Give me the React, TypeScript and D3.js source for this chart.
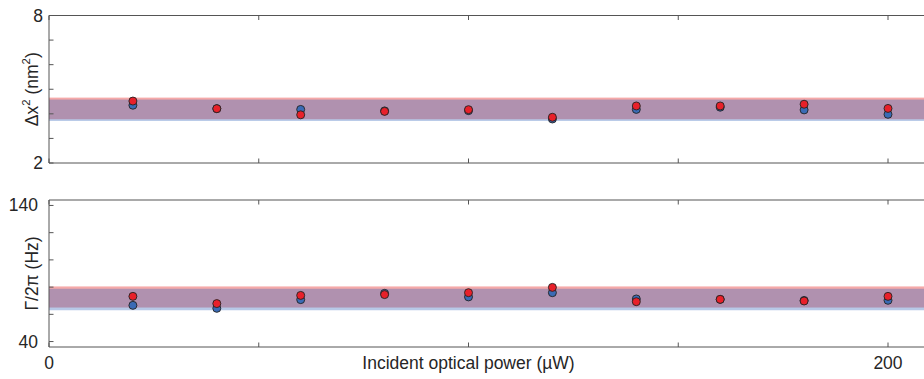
import React from "react";
import * as d3 from "d3";

// ---- data ----
const power = [20, 40, 60, 80, 100, 120, 140, 160, 180, 200];
const dx2Blue = [4.35, 4.21, 4.18, 4.12, 4.13, 3.79, 4.18, 4.27, 4.16, 3.98];
const dx2Red = [4.52, 4.21, 3.96, 4.1, 4.17, 3.86, 4.32, 4.32, 4.39, 4.22];
const gammaBlue = [66.6, 64.4, 70.8, 75.4, 72.8, 75.9, 71.3, 71.0, 70.2, 70.3];
const gammaRed = [73.2, 67.9, 73.9, 74.5, 75.9, 79.8, 69.3, 71.0, 69.8, 73.2];
const dx2RedBand = [3.78, 4.66];
const dx2BlueBand = [3.71, 4.58];
const gammaRedBand = [65, 80.5];
const gammaBlueBand = [63, 78.8];
const xTicks = [0, 50, 100, 150, 200];
const xTickLabels = ["0", "", "", "", "200"];
const dx2Ticks = [2, 3, 4, 5, 6, 7, 8];
const dx2TickLabels = ["2", "", "", "", "", "", "8"];
const gammaTicks = [40, 60, 80, 100, 120, 140];
const gammaTickLabels = ["40", "", "", "", "", "140"];

const W = 924;
const H = 379;
const axisColor = "#555";
const textColor = "#262626";
const font = "'Liberation Sans', Arial, sans-serif";
const fs = 17.5;

const x = d3.scaleLinear().domain([0, 200]).range([49, 888]);
const xRight = 924;

type PanelProps = {
  top: number;
  bottom: number;
  domain: [number, number];
  ticks: number[];
  tickLabels: string[];
  labelX: number;
  ylabel: React.ReactNode;
  blue: number[];
  red: number[];
  redBand: number[];
  blueBand: number[];
};

function Panel(p: PanelProps) {
  const y = d3.scaleLinear().domain(p.domain).range([p.bottom, p.top]);
  const x0 = x(0);
  const tl = 4.5;
  return (
    <g>
      <rect
        x={x0}
        y={y(p.redBand[1])}
        width={xRight - x0}
        height={y(p.redBand[0]) - y(p.redBand[1])}
        fill="rgb(230,40,40)"
        fillOpacity={0.4}
      />
      <rect
        x={x0}
        y={y(p.blueBand[1])}
        width={xRight - x0}
        height={y(p.blueBand[0]) - y(p.blueBand[1])}
        fill="rgb(50,100,185)"
        fillOpacity={0.35}
      />
      <line x1={x0} x2={xRight} y1={p.top} y2={p.top} stroke={axisColor} strokeWidth={1} />
      <line x1={x0} x2={xRight} y1={p.bottom} y2={p.bottom} stroke={axisColor} strokeWidth={1} />
      <line x1={x0} x2={x0} y1={p.top} y2={p.bottom} stroke={axisColor} strokeWidth={1} />
      {p.ticks.map((t, i) => (
        <g key={"yt" + i}>
          <line x1={x0} x2={x0 + tl} y1={y(t)} y2={y(t)} stroke={axisColor} strokeWidth={1} />
          {p.tickLabels[i] && (
            <text
              x={p.labelX}
              y={y(t)}
              textAnchor="end"
              dominantBaseline="central"
              fontSize={fs}
              fontFamily={font}
              fill={textColor}
            >
              {p.tickLabels[i]}
            </text>
          )}
        </g>
      ))}
      {xTicks.map((t, i) => (
        <g key={"xt" + i}>
          <line x1={x(t)} x2={x(t)} y1={p.top} y2={p.top + tl} stroke={axisColor} strokeWidth={1} />
          <line x1={x(t)} x2={x(t)} y1={p.bottom} y2={p.bottom - tl} stroke={axisColor} strokeWidth={1} />
        </g>
      ))}
      <text
        transform={`translate(32,${(p.top + p.bottom) / 2}) rotate(-90)`}
        textAnchor="middle"
        dominantBaseline="central"
        fontSize={fs}
        fontFamily={font}
        fill={textColor}
      >
        {p.ylabel}
      </text>
      {power.map((v, i) => (
        <circle key={"b" + i} cx={x(v)} cy={y(p.blue[i])} r={4} fill="#3a6bb5" stroke="#222" strokeWidth={0.9} />
      ))}
      {power.map((v, i) => (
        <circle key={"r" + i} cx={x(v)} cy={y(p.red[i])} r={4} fill="#e8202a" stroke="#222" strokeWidth={0.9} />
      ))}
    </g>
  );
}

export default function App() {
  return (
    <svg width={W} height={H} style={{ position: "absolute", left: 0, top: 0, background: "#fff" }}>
      <rect x={0} y={0} width={W} height={H} fill="#fff" />
      <Panel
        top={15.5}
        bottom={163}
        domain={[2, 8]}
        ticks={dx2Ticks}
        tickLabels={dx2TickLabels}
        labelX={43}
        ylabel={
          <>
            Δx
            <tspan fontSize={fs * 0.65} dy={-6}>2</tspan>
            <tspan dy={6}> (nm</tspan>
            <tspan fontSize={fs * 0.65} dy={-6}>2</tspan>
            <tspan dy={6}>)</tspan>
          </>
        }
        blue={dx2Blue}
        red={dx2Red}
        redBand={dx2RedBand}
        blueBand={dx2BlueBand}
      />
      <Panel
        top={200}
        bottom={347}
        domain={[36, 144]}
        ticks={gammaTicks}
        tickLabels={gammaTickLabels}
        labelX={38}
        ylabel="Γ/2π (Hz)"
        blue={gammaBlue}
        red={gammaRed}
        redBand={gammaRedBand}
        blueBand={gammaBlueBand}
      />
      {xTicks.map((t, i) =>
        xTickLabels[i] ? (
          <text
            key={"xl" + i}
            x={x(t)}
            y={363}
            textAnchor="middle"
            dominantBaseline="central"
            fontSize={fs}
            fontFamily={font}
            fill={textColor}
          >
            {xTickLabels[i]}
          </text>
        ) : null
      )}
      <text
        x={x(100)}
        y={363}
        textAnchor="middle"
        dominantBaseline="central"
        fontSize={fs}
        fontFamily={font}
        fill={textColor}
      >
        Incident optical power (µW)
      </text>
    </svg>
  );
}
